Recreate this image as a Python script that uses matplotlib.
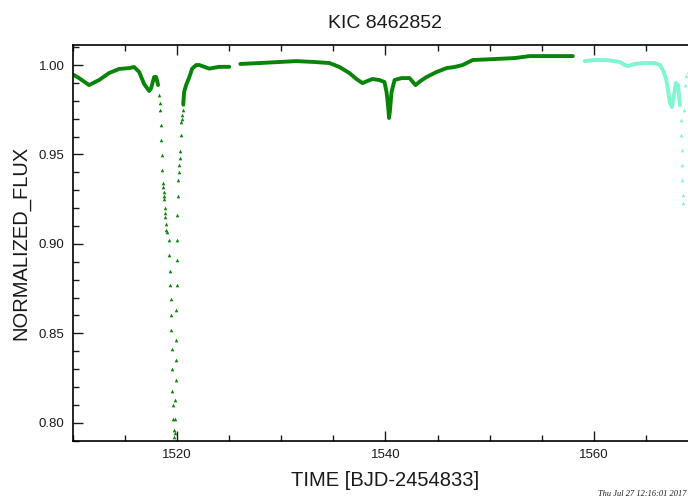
import matplotlib
matplotlib.use("Agg")
import matplotlib.pyplot as plt
from matplotlib.ticker import MultipleLocator, FormatStrFormatter

plt.rcParams['font.family'] = ['Liberation Sans', 'DejaVu Sans']

# first green stretch (dense cadence, drawn as a thick line)
q1_time = [1509.90, 1510.58, 1511.54, 1512.50, 1513.46, 1514.42, 1515.38, 1515.87,
           1516.35, 1516.83, 1517.31, 1517.50, 1517.79, 1517.98, 1518.17]
q1_flux = [0.9950, 0.9927, 0.9888, 0.9916, 0.9955, 0.9978, 0.9983, 0.9989,
           0.9961, 0.9894, 0.9855, 0.9871, 0.9933, 0.9933, 0.9888]

# the deep dip, sparse points
dip_time = [1518.27, 1518.32, 1518.37, 1518.41, 1518.46, 1518.51, 1518.56, 1518.61,
            1518.65, 1518.70, 1518.72, 1518.75, 1518.80, 1518.83, 1518.85, 1518.90,
            1518.94, 1519.04,
            1519.23, 1519.25, 1519.33, 1519.35, 1519.38, 1519.42, 1519.45, 1519.47,
            1519.52, 1519.54, 1519.57, 1519.62, 1519.66, 1519.71,
            1519.76, 1519.81, 1519.83, 1519.86, 1519.88, 1519.90, 1519.93, 1519.95,
            1519.98, 1520.00, 1520.02, 1520.05, 1520.10, 1520.15, 1520.19, 1520.24,
            1520.29, 1520.34, 1520.38, 1520.43, 1520.48, 1520.53, 1520.58]
dip_flux = [0.9832, 0.9790, 0.9748, 0.9665, 0.9581, 0.9497, 0.9413, 0.9340,
            0.9318, 0.9290, 0.9270, 0.9250, 0.9200, 0.9170, 0.9150, 0.9110,
            0.9080, 0.9067,
            0.9020, 0.8940, 0.8850, 0.8770, 0.8690, 0.8600, 0.8520, 0.8410,
            0.8300, 0.8180, 0.8100, 0.8020, 0.7960, 0.7920,
            0.7940, 0.8020, 0.8130, 0.8240, 0.8350, 0.8460, 0.8630, 0.8770,
            0.8910, 0.9020, 0.9160, 0.9270, 0.9360, 0.9400, 0.9440, 0.9480,
            0.9520, 0.9610, 0.9680, 0.9700, 0.9720, 0.9750, 0.9780]

# recovery after the dip and plateau to the data gap
q1b_time = [1520.58, 1520.67, 1520.87, 1521.15, 1521.44, 1521.83, 1522.12,
            1523.08, 1524.04, 1525.00]
q1b_flux = [0.9780, 0.9850, 0.9890, 0.9930, 0.9980, 1.0000, 1.0000,
            0.9980, 0.9990, 0.9990]

# second green stretch
q2_time = [1526.06, 1527.88, 1529.81, 1531.44, 1533.17, 1534.62, 1535.58, 1536.54,
           1537.21, 1537.79, 1538.27, 1538.75, 1539.42, 1539.90, 1540.10, 1540.24,
           1540.34, 1540.43, 1540.58, 1540.87, 1541.54, 1542.31, 1542.88, 1543.37,
           1543.94, 1544.90, 1545.87, 1546.63, 1547.40, 1548.37, 1550.67, 1552.40,
           1553.85, 1555.77, 1557.98]
q2_flux = [1.0006, 1.0011, 1.0017, 1.0022, 1.0017, 1.0011, 0.9989, 0.9955,
           0.9922, 0.9899, 0.9911, 0.9922, 0.9916, 0.9905, 0.9849, 0.9776,
           0.9704, 0.9748, 0.9849, 0.9916, 0.9927, 0.9927, 0.9888, 0.9911,
           0.9933, 0.9961, 0.9983, 0.9989, 1.0000, 1.0028, 1.0034, 1.0039,
           1.0050, 1.0050, 1.0050]

# next quarter (cyan)
q3_time = [1559.13, 1560.10, 1561.25, 1562.50, 1562.98, 1563.27, 1563.94, 1564.71,
           1565.87, 1566.35, 1566.63, 1566.92, 1567.12, 1567.31, 1567.50, 1567.69,
           1567.88, 1568.08, 1568.27]
q3_flux = [1.0022, 1.0028, 1.0028, 1.0017, 1.0000, 0.9994, 1.0006, 1.0011,
           1.0011, 1.0000, 0.9972, 0.9927, 0.9860, 0.9788, 0.9765, 0.9832,
           0.9899, 0.9888, 0.9776]
q3dip_time = [1568.37, 1568.41, 1568.46, 1568.48, 1568.51, 1568.56, 1568.58,
              1568.65, 1568.75, 1568.85, 1569.04]
q3dip_flux = [0.9693, 0.9609, 0.9525, 0.9441, 0.9357, 0.9273, 0.9229,
              0.9750, 0.9890, 0.9940, 0.9960]

green = '#088408'
cyan = '#7ff5d2'
ink = '#1a1a1a'

fig = plt.figure(figsize=(6.88, 5.0), dpi=100)
ax = fig.add_axes([73 / 688, 59 / 500, (698 - 73) / 688, 396 / 500])

ax.plot(q1_time, q1_flux, '-', color=green, lw=2.8, solid_capstyle='round')
ax.plot(dip_time, dip_flux, '^', color=green, ms=2.6, mew=0)
ax.plot(q1b_time, q1b_flux, '-', color=green, lw=2.8, solid_capstyle='round')
ax.plot(q2_time, q2_flux, '-', color=green, lw=2.8, solid_capstyle='round')
ax.plot(q3_time, q3_flux, '-', color=cyan, lw=2.8, solid_capstyle='round')
ax.plot(q3dip_time, q3dip_flux, '^', color=cyan, ms=2.6, mew=0)

ax.set_xlim(1510, 1570)
ax.set_ylim(0.7898, 1.0112)

ax.xaxis.set_major_locator(MultipleLocator(20))
ax.xaxis.set_minor_locator(MultipleLocator(5))
ax.yaxis.set_major_locator(MultipleLocator(0.05))
ax.yaxis.set_minor_locator(MultipleLocator(0.01))
ax.yaxis.set_major_formatter(FormatStrFormatter('%.2f'))

ax.tick_params(which='both', direction='in', top=True, right=False, width=1.0,
               labelsize=9.5, colors=ink, pad=6)
ax.tick_params(which='major', length=7.5)
ax.tick_params(which='minor', length=4.5)
for s in ax.spines.values():
    s.set_linewidth(1.2)

ax.set_title('KIC 8462852', fontsize=14, pad=12, color=ink)
ax.set_xlabel('TIME [BJD-2454833]', fontsize=14.5, labelpad=7, color=ink)
ax.set_ylabel('NORMALIZED_FLUX', fontsize=14.5, labelpad=6, color=ink)

fig.text(686 / 688, 1 - 496 / 500, 'Thu Jul 27 12:16:01 2017', fontsize=6.0,
         family='Liberation Serif', style='italic', color=ink, ha='right')

fig.savefig('out.png', dpi=100)
